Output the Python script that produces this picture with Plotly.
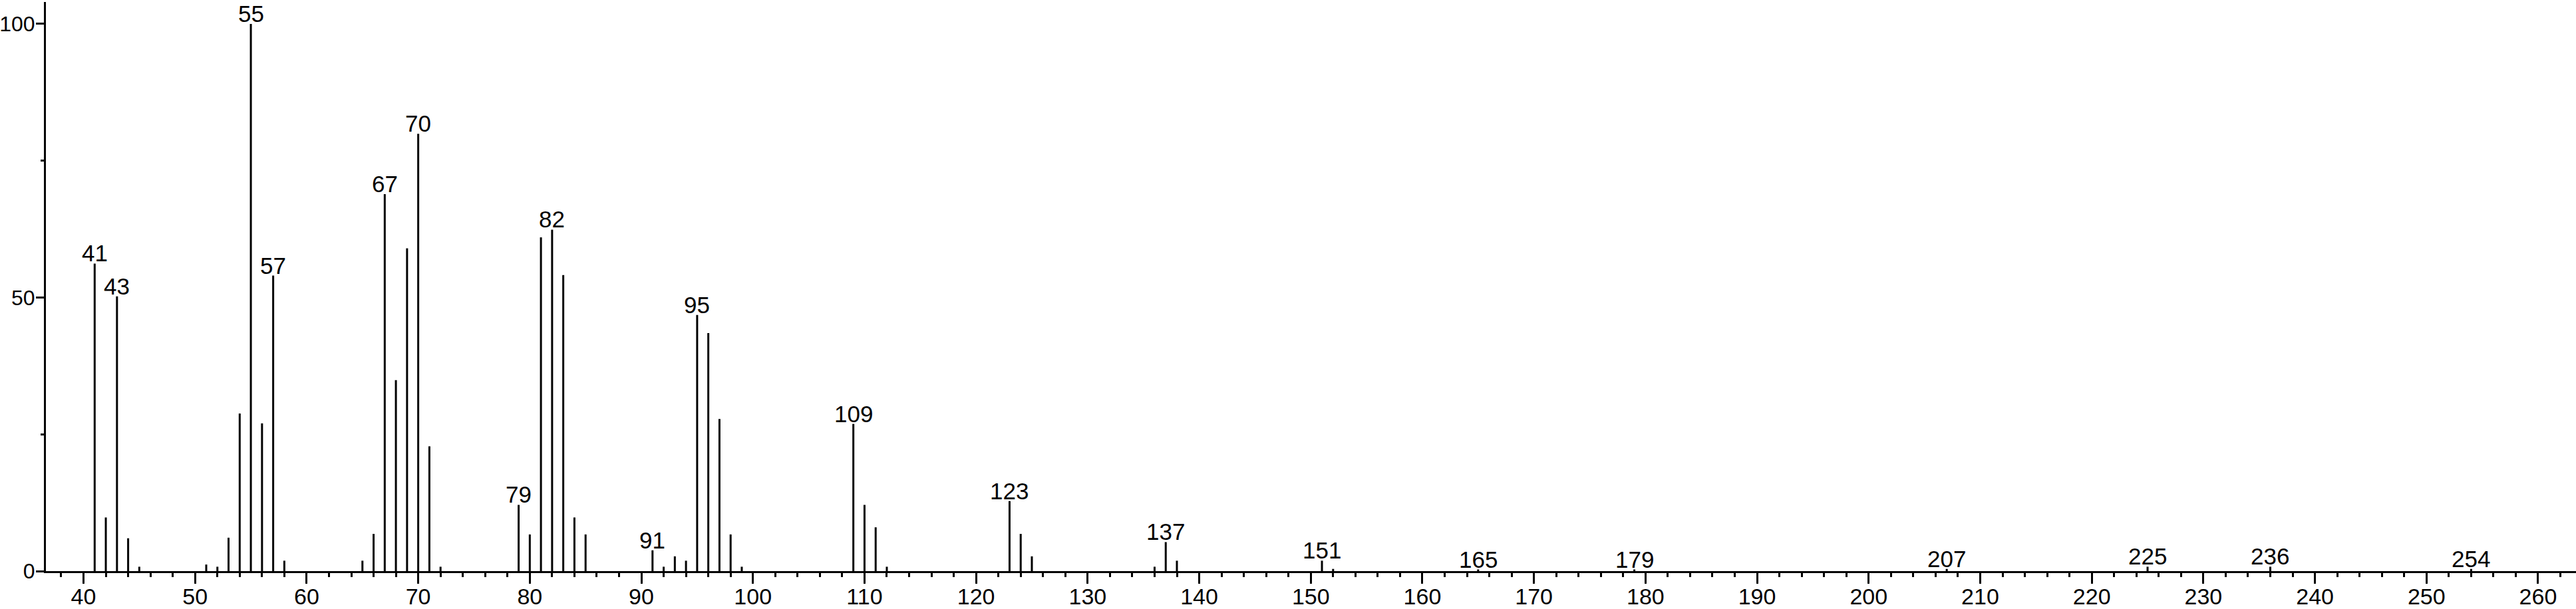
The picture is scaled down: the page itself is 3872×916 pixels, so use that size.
import plotly.graph_objects as go

# m/z values and relative intensities (%)
mz = [41, 42, 43, 44, 45, 51, 52, 53, 54, 55, 56, 57, 58,
      65, 66, 67, 68, 69, 70, 71, 72,
      79, 80, 81, 82, 83, 84, 85,
      91, 92, 93, 94, 95, 96, 97, 98, 99,
      109, 110, 111, 112, 123, 124, 125, 136, 137, 138, 151, 152,
      165, 179, 207, 225, 236, 254]
intensity = [56.2, 9.8, 50.2, 6.0, 0.8, 1.2, 0.8, 6.1, 28.8, 100.0, 27.0, 54.0, 1.9,
             1.9, 6.8, 68.9, 34.9, 59.0, 79.9, 22.8, 0.8,
             12.1, 6.7, 61.0, 62.4, 54.1, 9.8, 6.7,
             3.8, 0.8, 2.7, 1.9, 46.8, 43.5, 27.8, 6.7, 0.8,
             26.9, 12.1, 8.0, 0.8, 12.8, 6.8, 2.7, 0.8, 5.3, 1.9, 1.9, 0.4,
             0.3, 0.3, 0.4, 0.8, 0.8, 0.4]
labeled_mz = [41, 43, 55, 57, 67, 70, 79, 82, 91, 95, 109, 123, 137, 151,
              165, 179, 207, 225, 236, 254]

x_tick_vals = list(range(40, 261, 10))
y_tick_vals = [0, 50, 100]

FONT = "Liberation Sans, Arial, sans-serif"

xs, ys = [], []
for m, v in zip(mz, intensity):
    xs += [m, m, None]
    ys += [0, v, None]

fig = go.Figure()
fig.add_trace(go.Scatter(x=xs, y=ys, mode="lines",
                         line=dict(color="black", width=3),
                         hoverinfo="skip", showlegend=False))

lookup = dict(zip(mz, intensity))
for m in labeled_mz:
    fig.add_annotation(x=m, y=lookup[m], text=str(m), showarrow=False,
                       xanchor="center", yanchor="bottom", yshift=-6,
                       font=dict(family=FONT, size=35, color="black"))

fig.update_layout(
    width=3872, height=916, autosize=False,
    margin=dict(l=69, r=0, t=3, b=57, pad=0),
    paper_bgcolor="white", plot_bgcolor="white",
    showlegend=False,
    xaxis=dict(range=[36.63, 263.4], showgrid=False, zeroline=False,
               automargin=False,
               showline=True, linecolor="black", linewidth=3,
               ticks="outside", ticklen=16, tickwidth=3, tickcolor="black",
               tickvals=x_tick_vals, ticktext=[str(v) for v in x_tick_vals],
               tickfont=dict(family=FONT, size=34, color="black"),
               ticklabelstandoff=-10,
               minor=dict(dtick=2, tick0=0, ticks="outside", ticklen=6,
                          tickwidth=3, tickcolor="black", showgrid=False)),
    yaxis=dict(range=[0, 104], showgrid=False, zeroline=False,
               automargin=False,
               showline=True, linecolor="black", linewidth=3,
               ticks="outside", ticklen=12, tickwidth=3, tickcolor="black",
               tickvals=y_tick_vals, ticktext=[str(v) for v in y_tick_vals],
               tickfont=dict(family=FONT, size=32, color="black"),
               ticklabelstandoff=-5,
               minor=dict(tickvals=[25, 75], ticks="outside", ticklen=5,
                          tickwidth=3, tickcolor="black", showgrid=False)),
)

fig.write_html("out.html",
               config={"displayModeBar": False},
               post_script="document.body.style.margin='0';"
                           "document.body.style.padding='0';"
                           "document.body.style.overflow='hidden';")
